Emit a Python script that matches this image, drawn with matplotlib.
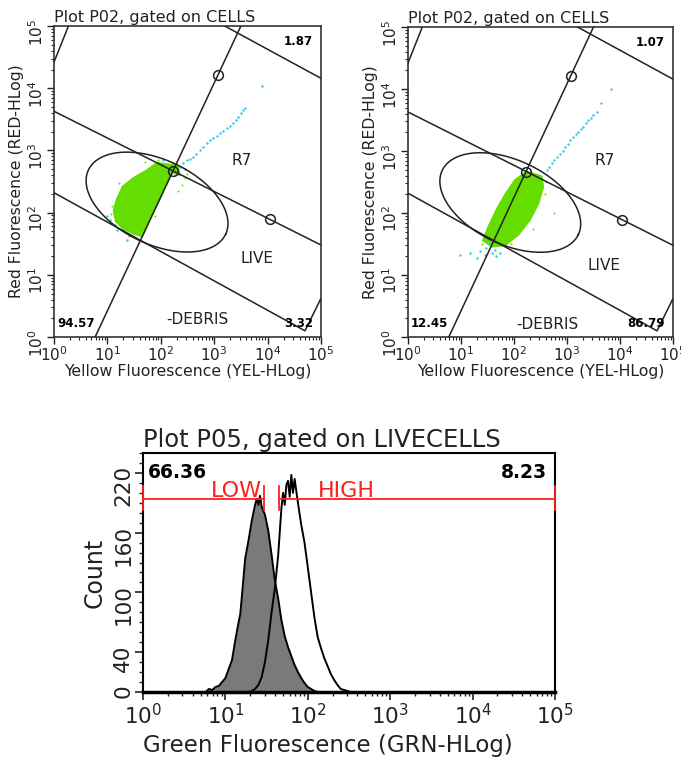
import numpy as np
import matplotlib.pyplot as plt
from matplotlib.ticker import LogLocator, NullFormatter, FixedLocator, MultipleLocator
from matplotlib.patches import Rectangle

# all scatter / gate values are in log10 decades (axes run 10^0 .. 10^5)

# left plot: dense green cloud outline and the cyan events
left_cloud_x = [2.17, 1.93, 1.74, 1.48, 1.29, 1.18, 1.12, 1.16, 1.30, 1.50, 1.65, 2.21, 2.36, 2.30]
left_cloud_y = [2.77, 2.80, 2.68, 2.55, 2.42, 2.22, 2.04, 1.86, 1.74, 1.66, 1.62, 2.65, 2.60, 2.78]
left_green_x = [2.40, 2.45, 2.33, 1.08, 1.06, 1.22, 2.50, 1.70, 1.95, 1.40, 1.90]
left_green_y = [2.45, 2.55, 2.35, 2.10, 1.98, 2.48, 2.62, 2.82, 2.85, 1.62, 1.95]
left_cyan_x = [2.36, 2.42, 2.49, 2.55, 2.60, 2.66, 2.73, 2.80, 2.87, 2.93, 2.98, 3.05,
               3.11, 3.17, 3.24, 3.30, 3.35, 3.40, 3.45, 3.50, 3.54, 3.58, 3.90,
               1.05, 1.14, 1.29, 1.37, 1.18, 1.00, 2.05, 2.45]
left_cyan_y = [2.73, 2.80, 2.85, 2.86, 2.89, 2.95, 3.01, 3.05, 3.12, 3.16, 3.20, 3.24,
               3.28, 3.31, 3.36, 3.40, 3.44, 3.49, 3.54, 3.60, 3.65, 3.68, 4.04,
               1.88, 1.80, 1.72, 1.56, 1.72, 1.95, 2.85, 2.70]

# right plot
right_cloud_x = [2.24, 2.52, 2.55, 2.46, 2.30, 2.08, 1.83, 1.58, 1.42, 1.52, 1.67, 1.83, 2.02]
right_cloud_y = [2.67, 2.59, 2.42, 2.16, 1.89, 1.65, 1.48, 1.46, 1.56, 1.78, 2.05, 2.29, 2.53]
right_green_x = [2.60, 2.58, 1.40, 1.48, 2.35, 1.95, 2.75]
right_green_y = [2.50, 2.30, 1.50, 1.70, 1.75, 1.50, 2.00]
right_cyan_x = [2.62, 2.66, 2.71, 2.76, 2.81, 2.87, 2.92, 2.96, 3.01, 3.06, 3.12, 3.17,
                3.21, 3.26, 3.31, 3.36, 3.40, 3.45, 3.50, 3.56, 3.65, 3.84,
                0.98, 1.17, 1.36, 1.48, 1.58, 1.67, 1.74, 1.55, 1.64, 1.30, 1.45]
right_cyan_y = [2.69, 2.75, 2.80, 2.86, 2.91, 2.96, 3.00, 3.07, 3.12, 3.18, 3.23, 3.27,
                3.31, 3.35, 3.39, 3.45, 3.50, 3.54, 3.58, 3.63, 3.77, 4.00,
                1.32, 1.35, 1.38, 1.43, 1.35, 1.30, 1.35, 1.51, 1.40, 1.28, 1.33]

left_numbers = ['1.87', '94.57', '3.32']
right_numbers = ['1.07', '12.45', '86.79']

# gate template (same on both plots)
steep_line = ([0.77, 3.50], [0.0, 5.0])
upper_line = ([0.0, 5.0], [3.63, 1.48])
lower_line = ([0.0, 4.70, 5.0], [2.32, 0.10, 0.62])
top_right_line = ([3.20, 5.0], [5.0, 4.16])
top_left_corner = ([0.0, 0.27], [4.42, 5.0])
handles_x = [3.07, 2.23, 4.04]
handles_y = [4.21, 2.67, 1.89]
ellipse_center = (1.93, 2.17)
ellipse_u = (1.286, -0.515)
ellipse_v = (-0.335, -0.616)

# histogram (x in log10 decades, y in counts)
grey_log = [0.76, 0.80, 0.84, 0.88, 0.92, 0.96, 1.00, 1.04, 1.08, 1.12, 1.16, 1.18,
            1.20, 1.24, 1.28, 1.32, 1.36, 1.38, 1.40, 1.42, 1.44, 1.48, 1.52, 1.56,
            1.60, 1.64, 1.68, 1.72, 1.76, 1.80, 1.84, 1.88, 1.92, 1.96, 2.00, 2.04,
            2.08, 2.12]
grey_count = [0, 3, 2, 5, 6, 10, 14, 23, 32, 52, 70, 78, 96, 134, 152, 172, 188, 194,
              188, 197, 186, 178, 162, 138, 112, 94, 72, 56, 45, 36, 27, 20, 14, 9,
              5, 3, 1, 0]
open_log = [1.28, 1.32, 1.36, 1.40, 1.44, 1.48, 1.52, 1.56, 1.60, 1.64, 1.68, 1.70,
            1.72, 1.74, 1.76, 1.78, 1.80, 1.82, 1.84, 1.88, 1.92, 1.96, 2.00, 2.04,
            2.08, 2.12, 2.16, 2.20, 2.24, 2.28, 2.32, 2.36, 2.40, 2.44, 2.48, 2.52]
open_count = [0, 1, 3, 7, 15, 30, 52, 80, 104, 137, 185, 200, 188, 208, 212, 196, 218,
              200, 214, 190, 168, 150, 125, 100, 75, 55, 44, 34, 26, 18, 12, 7, 3, 2,
              1, 0]
low_gate = (1, 29)
high_gate = (45, 1e5)
gate_level = 194
hist_numbers = ['66.36', '8.23']

GREEN = '#66dd00'
CYAN = '#22ccee'
INK = '#222222'


def dec(v):
    return 10 ** np.asarray(v, dtype=float)


def log_axis(a):
    a.set_major_locator(LogLocator(base=10, numticks=10))
    a.set_minor_locator(LogLocator(base=10, subs=np.arange(2, 10), numticks=10))
    a.set_minor_formatter(NullFormatter())


def scatter_panel(ax, cloud_x, cloud_y, gx, gy, cx, cy, numbers, text_pos):
    ax.set_xscale('log')
    ax.set_yscale('log')
    ax.set_xlim(1, 1e5)
    ax.set_ylim(1, 1e5)
    log_axis(ax.xaxis)
    log_axis(ax.yaxis)

    ax.fill(dec(cloud_x), dec(cloud_y), color=GREEN, lw=1.5, zorder=2)
    ax.scatter(dec(gx), dec(gy), s=2, color=GREEN, lw=0, zorder=2)
    ax.scatter(dec(cx), dec(cy), s=3, color=CYAN, lw=0, zorder=2)

    for xs, ys in [steep_line, upper_line, lower_line, top_right_line, top_left_corner]:
        ax.plot(dec(xs), dec(ys), color=INK, lw=1.1, zorder=3)
    t = np.linspace(0, 2 * np.pi, 300)
    ex = ellipse_center[0] + ellipse_u[0] * np.cos(t) + ellipse_v[0] * np.sin(t)
    ey = ellipse_center[1] + ellipse_u[1] * np.cos(t) + ellipse_v[1] * np.sin(t)
    ax.plot(dec(ex), dec(ey), color=INK, lw=1.1, zorder=3)
    ax.plot(dec(handles_x), dec(handles_y), 'o', ms=7, mfc='none', mec=INK,
            mew=1.1, zorder=4)

    ax.text(0.97, 0.95, numbers[0], transform=ax.transAxes, ha='right', va='center',
            fontsize=8.5, fontweight='bold')
    ax.text(0.012, 0.045, numbers[1], transform=ax.transAxes, ha='left', va='center',
            fontsize=8.5, fontweight='bold')
    ax.text(0.97, 0.045, numbers[2], transform=ax.transAxes, ha='right', va='center',
            fontsize=8.5, fontweight='bold')
    for label, (px, py) in zip(['R7', 'LIVE', '-DEBRIS'], text_pos):
        ax.text(px, py, label, transform=ax.transAxes, ha='center', va='center',
                fontsize=11, color=INK)

    ax.set_title('Plot P02, gated on CELLS', loc='left', fontsize=11.5, pad=3, color=INK)
    ax.set_xlabel('Yellow Fluorescence (YEL-HLog)', fontsize=11.3, labelpad=0, color=INK)
    ax.set_ylabel('Red Fluorescence (RED-HLog)', fontsize=11.3, labelpad=2, color=INK)
    ax.tick_params(which='both', direction='out', labelsize=11, colors=INK)
    ax.tick_params(which='major', length=5, width=1)
    ax.tick_params(which='minor', length=2.5, width=0.8)
    ax.tick_params(axis='y', labelrotation=90, pad=1)
    ax.tick_params(axis='x', pad=1)
    for s in ax.spines.values():
        s.set_linewidth(1.2)
        s.set_color('#333333')


fig = plt.figure(figsize=(6.81, 7.62), dpi=100)

ax1 = fig.add_axes([0.0793, 0.5577, 0.392, 0.4081])
scatter_panel(ax1, left_cloud_x, left_cloud_y, left_green_x, left_green_y,
              left_cyan_x, left_cyan_y, left_numbers,
              [(0.703, 0.569), (0.76, 0.254), (0.536, 0.055)])

ax2 = fig.add_axes([0.5991, 0.5577, 0.3891, 0.4068])
scatter_panel(ax2, right_cloud_x, right_cloud_y, right_green_x, right_green_y,
              right_cyan_x, right_cyan_y, right_numbers,
              [(0.743, 0.571), (0.738, 0.232), (0.525, 0.039)])

# histogram
ax3 = fig.add_axes([0.21, 0.0919, 0.605, 0.3136])
ax3.set_xscale('log')
ax3.set_xlim(1, 1e5)
ax3.set_ylim(0, 240)
log_axis(ax3.xaxis)
ax3.yaxis.set_major_locator(FixedLocator([0, 40, 100, 160, 220]))
ax3.yaxis.set_minor_locator(MultipleLocator(10))

ax3.fill_between(dec(grey_log), grey_count, color='#7a7a7a', lw=0, zorder=2)
ax3.plot(dec(grey_log), grey_count, color='black', lw=1.4, zorder=3)
ax3.plot(dec(open_log), open_count, color='black', lw=1.4, zorder=3)

red = '#ff2020'
for lo, hi in [low_gate, high_gate]:
    ax3.plot([lo, hi], [gate_level, gate_level], color=red, lw=1.3, zorder=4, clip_on=False)
    ax3.plot([lo, lo], [gate_level - 11, gate_level + 13], color=red, lw=1.3, zorder=4, clip_on=False)
    ax3.plot([hi, hi], [gate_level - 11, gate_level + 13], color=red, lw=1.3, zorder=4, clip_on=False)
ax3.text(13.5, gate_level - 2, 'LOW', color=red, ha='center', va='bottom', fontsize=16)
ax3.text(133, gate_level - 2, 'HIGH', color=red, ha='left', va='bottom', fontsize=16)

ax3.text(0.012, 0.92, hist_numbers[0], transform=ax3.transAxes, ha='left', va='center',
         fontsize=13.5, fontweight='bold')
ax3.text(0.98, 0.92, hist_numbers[1], transform=ax3.transAxes, ha='right', va='center',
         fontsize=13.5, fontweight='bold')

ax3.set_title('Plot P05, gated on LIVECELLS', loc='left', fontsize=17.5, pad=4, color=INK)
ax3.set_xlabel('Green Fluorescence (GRN-HLog)', fontsize=16.5, color=INK)
ax3.xaxis.set_label_coords(0.449, -0.175)
ax3.set_ylabel('Count', fontsize=17, labelpad=5, color=INK)
ax3.tick_params(which='both', direction='out', labelsize=15.5, colors=INK)
ax3.tick_params(which='major', length=6, width=1.2)
ax3.tick_params(which='minor', length=3, width=1)
ax3.tick_params(axis='y', labelrotation=90, pad=1)
ax3.tick_params(axis='x', pad=2)
for s in ax3.spines.values():
    s.set_linewidth(1.5)
ax3.spines['bottom'].set_linewidth(2.5)

# the source image is cropped just under the top x labels
fig.patches.append(Rectangle((0, 0.47), 1, 0.0326, transform=fig.transFigure,
                             color='white', zorder=10))

fig.savefig('out.png', dpi=100)
